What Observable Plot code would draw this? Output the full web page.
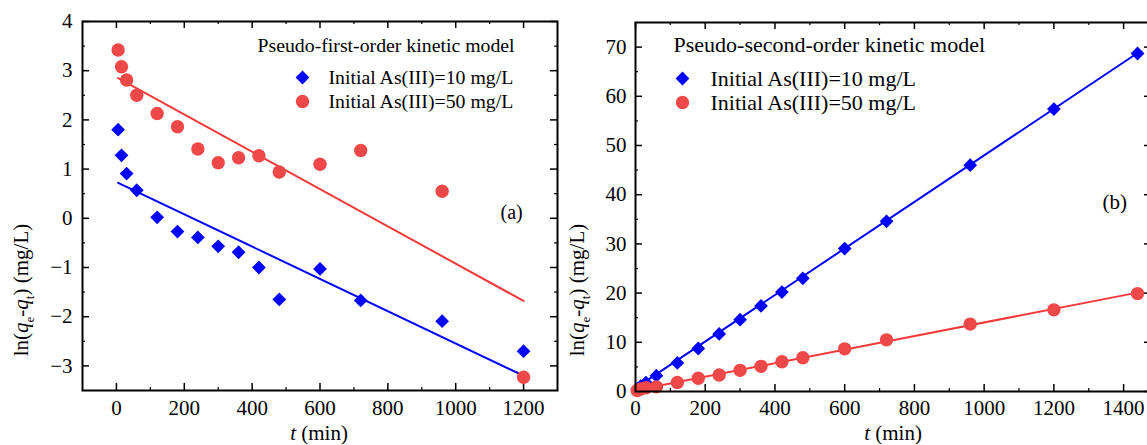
<!DOCTYPE html>
<html><head><meta charset="utf-8">
<script src="https://cdn.jsdelivr.net/npm/d3@7"></script>
<script src="https://cdn.jsdelivr.net/npm/@observablehq/plot@0.6"></script>
<style>
html,body{margin:0;padding:0;background:#fff;overflow:hidden;}
#wrap{position:relative;width:1147px;height:445px;overflow:hidden;background:#fff;}
#wrap svg{position:absolute;top:0;}
</style></head><body><div id="wrap"></div>
<script>
// ---------- data ----------
const seriesNames = ["Initial As(III)=10 mg/L", "Initial As(III)=50 mg/L"];
const titleA = "Pseudo-first-order kinetic model";
const titleB = "Pseudo-second-order kinetic model";

// (a) pseudo-first-order
const timeA = [5, 15, 30, 60, 120, 180, 240, 300, 360, 420, 480, 600, 720, 960, 1200];
const first10 = [1.80, 1.28, 0.91, 0.57, 0.02, -0.27, -0.39, -0.57, -0.69, -1.00, -1.65, -1.03, -1.67, -2.09, -2.70];
const first50 = [3.42, 3.08, 2.81, 2.50, 2.13, 1.86, 1.41, 1.13, 1.23, 1.27, 0.94, 1.10, 1.38, 0.55, -3.23];
const fitTimeA = [5, 1200];
const fitFirst10 = [0.72, -3.20];
const fitFirst50 = [2.85, -1.68];

// (b) pseudo-second-order
const timeB = [5, 15, 30, 60, 120, 180, 240, 300, 360, 420, 480, 600, 720, 960, 1200, 1440];
const second10 = [0.55, 1.1, 1.8, 3.2, 5.8, 8.74, 11.7, 14.6, 17.4, 20.2, 23.0, 29.05, 34.6, 46.0, 57.4, 68.7];
const second50 = [0.2, 0.5, 0.75, 0.95, 1.85, 2.69, 3.36, 4.30, 5.11, 6.05, 6.86, 8.67, 10.5, 13.7, 16.6, 19.9];
const fitTimeB = [0, 1440];
const fitSecond10 = [0.7, 68.8];
const fitSecond50 = [0.25, 20.1];

// ticks
const majorXA = [0, 200, 400, 600, 800, 1000, 1200];
const minorXA = [100, 300, 500, 700, 900, 1100];
const majorYA = [-3, -2, -1, 0, 1, 2, 3, 4];
const minorYA = [-2.5, -1.5, -0.5, 0.5, 1.5, 2.5, 3.5];
const majorXB = [0, 200, 400, 600, 800, 1000, 1200, 1400];
const minorXB = [100, 300, 500, 700, 900, 1100, 1300];
const majorYB = [0, 10, 20, 30, 40, 50, 60, 70];
const minorYB = [5, 15, 25, 35, 45, 55, 65];

// ---------- styling ----------
const BLUE = "#0000ff";
const RED_PT = "#ef4848";
const RED_LN = "#f23a3a";
const FONT = "'Liberation Serif', 'Times New Roman', serif";
const fmt = d3.format("d");
const R_DIA = 6.2, R_CIR = 6.7;

const rows = (xs, ys) => xs.map((x, i) => ({x, y: ys[i]}));

// inward ticks on all four sides; w,h = plot-area size in px
function tickMarks(mx, nx, my, ny, w, h) {
  const MAJ = 7, MIN = 3;
  const o = {stroke: "black"};
  return [
    Plot.tickX(mx, {...o, x: d => d, insetTop: h - MAJ, strokeWidth: 1.5}),
    Plot.tickX(nx, {...o, x: d => d, insetTop: h - MIN, strokeWidth: 1.2}),
    Plot.tickX(mx, {...o, x: d => d, insetBottom: h - MAJ, strokeWidth: 1.5}),
    Plot.tickX(nx, {...o, x: d => d, insetBottom: h - MIN, strokeWidth: 1.2}),
    Plot.tickY(my, {...o, y: d => d, insetRight: w - MAJ, strokeWidth: 1.5}),
    Plot.tickY(ny, {...o, y: d => d, insetRight: w - MIN, strokeWidth: 1.2}),
    Plot.tickY(my, {...o, y: d => d, insetLeft: w - MAJ, strokeWidth: 1.5}),
    Plot.tickY(ny, {...o, y: d => d, insetLeft: w - MIN, strokeWidth: 1.2})
  ];
}

function legend(title, tdx, tdy, sdx, textdx, dy1, dy2, fs, fsTitle) {
  const base = {frameAnchor: "top-left", lineAnchor: "middle", fontFamily: FONT, fill: "black", textAnchor: "start"};
  return [
    Plot.text([title], {...base, text: d => d, dx: tdx, dy: tdy, fontSize: fsTitle}),
    Plot.dot([0], {frameAnchor: "top-left", dx: sdx, dy: dy1, symbol: "diamond2", r: R_DIA, fill: BLUE}),
    Plot.dot([0], {frameAnchor: "top-left", dx: sdx, dy: dy2, symbol: "circle", r: R_CIR, fill: RED_PT}),
    Plot.text([seriesNames[0]], {...base, text: d => d, dx: textdx, dy: dy1, fontSize: fs}),
    Plot.text([seriesNames[1]], {...base, text: d => d, dx: textdx, dy: dy2, fontSize: fs})
  ];
}

function addLabels(svg, yx, yy, xx, xy) {
  const s = d3.select(svg);
  const size = 21;
  const t = s.append("text")
    .attr("transform", `translate(${yx},${yy}) rotate(-90)`)
    .attr("font-family", FONT).attr("font-size", size).attr("fill", "black");
  t.append("tspan").text("ln(");
  t.append("tspan").attr("font-style", "italic").text("q");
  t.append("tspan").attr("font-size", size * 0.62).attr("dy", size * 0.28).text("e");
  t.append("tspan").attr("dy", -size * 0.28).text("-");
  t.append("tspan").attr("font-style", "italic").text("q");
  t.append("tspan").attr("font-size", size * 0.62).attr("dy", size * 0.28).text("t");
  t.append("tspan").attr("dy", -size * 0.28).text(") (mg/L)");
  const u = s.append("text")
    .attr("x", xx).attr("y", xy).attr("text-anchor", "middle")
    .attr("font-family", FONT).attr("font-size", size).attr("fill", "black");
  u.append("tspan").attr("font-style", "italic").text("t");
  u.append("tspan").text(" (min)");
}

const style = {fontFamily: FONT, fontSize: "21px", color: "black", background: "transparent", overflow: "visible"};
const axText = {label: null, tickSize: 0, fontSize: 21, fontFamily: FONT, tickFormat: fmt};

// ---------- panel (a) ----------
const A = {width: 560, height: 445, ml: 82, mr: 3, mt: 21, mb: 55};
const plotA = Plot.plot({
  width: A.width, height: A.height,
  marginLeft: A.ml, marginRight: A.mr, marginTop: A.mt, marginBottom: A.mb,
  x: {domain: [-100, 1300]},
  y: {domain: [-3.5, 4]},
  style,
  marks: [
    Plot.axisX(majorXA, {...axText, anchor: "bottom", tickPadding: 10}),
    Plot.axisY(majorYA, {...axText, anchor: "left", tickPadding: 10}),
    ...tickMarks(majorXA, minorXA, majorYA, minorYA, A.width - A.ml - A.mr, A.height - A.mt - A.mb),
    Plot.line(rows(fitTimeA, fitFirst10), {x: "x", y: "y", stroke: BLUE, strokeWidth: 2}),
    Plot.line(rows(fitTimeA, fitFirst50), {x: "x", y: "y", stroke: RED_LN, strokeWidth: 2}),
    Plot.dot(rows(timeA, first10), {x: "x", y: "y", symbol: "diamond2", r: R_DIA, fill: BLUE}),
    Plot.dot(rows(timeA, first50), {x: "x", y: "y", symbol: "circle", r: R_CIR, fill: RED_PT}),
    ...legend(titleA, 175, 24, 220, 246, 56, 80, 19.8, 19.8),
    Plot.text(["(a)"], {frameAnchor: "top-left", lineAnchor: "middle", dx: 418, dy: 191, text: d => d, fontSize: 20, fontFamily: FONT, textAnchor: "start"}),
    Plot.frame({stroke: "black", strokeWidth: 2})
  ]
});
plotA.style.left = "0px";
addLabels(plotA, 28, 290, 319, 440);

// ---------- panel (b) ----------
const B = {width: 600, height: 445, ml: 75, mr: 9, mt: 22, mb: 54};
const plotB = Plot.plot({
  width: B.width, height: B.height,
  marginLeft: B.ml, marginRight: B.mr, marginTop: B.mt, marginBottom: B.mb,
  x: {domain: [0, 1480]},
  y: {domain: [0, 75]},
  style,
  marks: [
    Plot.axisX(majorXB, {...axText, anchor: "bottom", tickPadding: 9}),
    Plot.axisY(majorYB, {...axText, anchor: "left", tickPadding: 9}),
    ...tickMarks(majorXB, minorXB, majorYB, minorYB, B.width - B.ml - B.mr, B.height - B.mt - B.mb),
    Plot.line(rows(fitTimeB, fitSecond10), {x: "x", y: "y", stroke: BLUE, strokeWidth: 2}),
    Plot.line(rows(fitTimeB, fitSecond50), {x: "x", y: "y", stroke: RED_LN, strokeWidth: 2}),
    Plot.dot(rows(timeB, second10), {x: "x", y: "y", symbol: "diamond2", r: R_DIA, fill: BLUE}),
    Plot.dot(rows(timeB, second50), {x: "x", y: "y", symbol: "circle", r: R_CIR, fill: RED_PT}),
    ...legend(titleB, 38, 22, 47, 75, 56, 80, 22, 22),
    Plot.text(["(b)"], {frameAnchor: "top-left", lineAnchor: "middle", dx: 467, dy: 180, text: d => d, fontSize: 21, fontFamily: FONT, textAnchor: "start"}),
    Plot.frame({stroke: "black", strokeWidth: 2})
  ]
});
plotB.style.left = "560px";
addLabels(plotB, 24, 290, 333, 440);

document.getElementById("wrap").append(plotA, plotB);
</script></body></html>
